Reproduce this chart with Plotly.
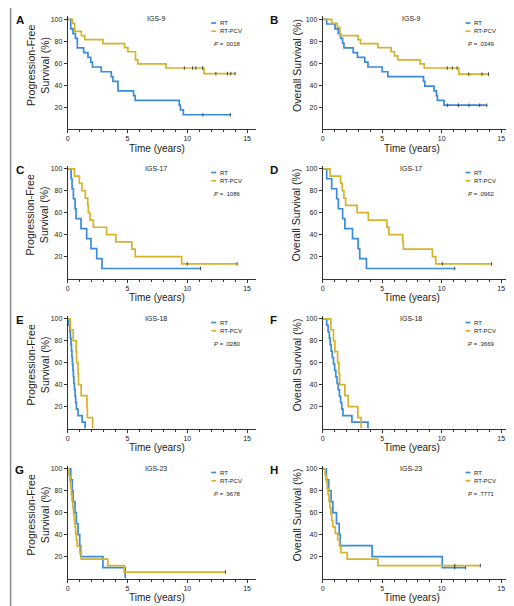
import plotly.graph_objects as go

# ---------------- data ----------------
PANEL_LETTERS = ["A", "B", "C", "D", "E", "F", "G", "H"]
PANEL_TITLES = ["IGS-9", "IGS-9", "IGS-17", "IGS-17", "IGS-18", "IGS-18", "IGS-23", "IGS-23"]
P_VALUES = [".0018", ".0349", ".1086", ".0962", ".0280", ".3669", ".9678", ".7771"]
Y_TITLES = ["Progression-Free<br>Survival (%)", "Overall Survival (%)"] * 4
X_TITLE = "Time (years)"
SERIES_NAMES = ["RT", "RT-PCV"]
X_TICKS = [0, 5, 10, 15]
Y_TICKS = [20, 40, 60, 80, 100]

# Panel A  (PFS, IGS-9)
A_RT_T = [0, 0.25, 0.44, 0.64, 0.8, 1.33, 1.69, 1.92, 2.06, 2.8, 3.64, 3.78, 4.2, 5.5, 5.64, 9.33, 9.42, 9.67, 13.6]
A_RT_S = [100, 91.3, 87.0, 82.6, 73.9, 69.6, 65.2, 60.9, 56.5, 52.2, 47.8, 43.5, 34.8, 30.4, 26.1, 21.7, 17.4, 13.0, 13.0]
A_RT_C = [11.3, 13.6]
A_PCV_T = [0, 0.39, 0.58, 1.14, 1.42, 2.94, 4.75, 5.03, 5.67, 5.86, 8.22, 11.4, 14.0]
A_PCV_S = [100, 96.3, 88.9, 85.2, 81.5, 77.8, 74.1, 70.4, 63.0, 59.3, 55.6, 50.5, 50.5]
A_PCV_C = [9.75, 10.44, 10.72, 11.28, 12.39, 13.36, 13.64, 14.0]

# Panel B  (OS, IGS-9)
B_RT_T = [0, 0.33, 1.03, 1.3, 1.5, 1.67, 1.78, 2.56, 2.92, 3.53, 3.8, 5.0, 5.47, 8.47, 8.58, 9.36, 9.56, 9.64, 10.2, 13.8]
B_RT_S = [100, 95.7, 91.3, 87.0, 82.6, 78.3, 73.9, 69.6, 65.2, 60.9, 56.5, 52.2, 47.8, 43.5, 39.1, 34.8, 30.4, 26.1, 21.7, 21.7]
B_RT_C = [10.5, 11.4, 12.3, 13.2, 13.8]
B_PCV_T = [0, 0.75, 1.22, 1.44, 2.97, 3.17, 4.64, 5.75, 6.03, 6.31, 8.19, 8.53, 11.44, 13.94]
B_PCV_S = [100, 96.3, 92.6, 85.2, 81.5, 77.8, 74.1, 70.4, 66.7, 63.0, 59.3, 55.6, 50.0, 50.0]
B_PCV_C = [10.47, 10.89, 11.3, 12.28, 13.39, 13.94]

# Panel C  (PFS, IGS-17)
C_RT_T = [0, 0.28, 0.36, 0.47, 0.61, 0.69, 1.11, 1.58, 1.94, 2.42, 2.86, 11.1]
C_RT_S = [100, 90.9, 81.8, 72.7, 63.6, 54.5, 45.5, 36.4, 27.3, 18.2, 9.1, 9.1]
C_RT_C = [11.1]
C_PCV_T = [0, 0.56, 0.97, 1.19, 1.47, 1.67, 1.72, 1.86, 2.14, 3.25, 4.03, 5.36, 5.64, 9.53, 14.17]
C_PCV_S = [100, 93.3, 86.7, 80.0, 73.3, 66.7, 60.0, 53.3, 46.7, 40.0, 33.3, 26.7, 20.0, 13.3, 13.3]
C_PCV_C = [10.0, 14.17]

# Panel D  (OS, IGS-17)
D_RT_T = [0, 0.33, 0.75, 1.17, 1.31, 1.67, 1.86, 2.5, 2.97, 3.11, 3.67, 11.1]
D_RT_S = [100, 90.9, 81.8, 72.7, 63.6, 54.5, 45.5, 36.4, 27.3, 18.2, 9.1, 9.1]
D_RT_C = [11.1]
D_PCV_T = [0, 0.61, 1.5, 1.64, 1.78, 1.92, 2.89, 3.83, 5.39, 5.56, 6.72, 6.78, 9.22, 9.5, 14.2]
D_PCV_S = [100, 93.3, 86.7, 80.0, 73.3, 66.7, 60.0, 53.3, 46.7, 40.0, 33.3, 26.7, 20.0, 13.3, 13.3]
D_PCV_C = [10.06, 14.2]

# Panel E  (PFS, IGS-18)
E_RT_T = [0, 0.08, 0.17, 0.22, 0.27, 0.31, 0.35, 0.39, 0.43, 0.47, 0.51, 0.56, 0.61, 0.66, 0.72, 0.86, 1.2, 1.45]
E_RT_S = [100, 94.1, 88.2, 82.4, 76.5, 70.6, 64.7, 58.8, 52.9, 47.1, 41.2, 35.3, 29.4, 23.5, 17.6, 11.8, 5.9, 0]
E_RT_C = []
E_PCV_T = [0, 0.22, 0.45, 0.7, 0.74, 0.86, 0.9, 1.12, 1.6, 1.64, 2.08]
E_PCV_S = [100, 90, 80, 70, 60, 50, 40, 30, 20, 10, 0]
E_PCV_C = []

# Panel F  (OS, IGS-18)
F_RT_T = [0, 0.33, 0.45, 0.55, 0.62, 0.7, 0.8, 0.9, 1.0, 1.1, 1.2, 1.3, 1.4, 1.5, 1.6, 1.7, 2.45, 3.8]
F_RT_S = [100, 94.1, 88.2, 82.4, 76.5, 70.6, 64.7, 58.8, 52.9, 47.1, 41.2, 35.3, 29.4, 23.5, 17.6, 11.8, 5.9, 0]
F_RT_C = []
F_PCV_T = [0, 0.68, 0.9, 1.02, 1.25, 1.36, 1.42, 1.86, 2.14, 2.95, 3.22]
F_PCV_S = [100, 90, 80, 70, 60, 50, 40, 30, 20, 10, 0]
F_PCV_C = []

# Panel G  (PFS, IGS-23)
G_RT_T = [0, 0.25, 0.38, 0.45, 0.6, 0.72, 0.86, 1.0, 1.08, 2.94, 4.8]
G_RT_S = [100, 90, 80, 70, 60, 50, 40, 30, 20, 10, 0]
G_RT_C = []
G_PCV_T = [0, 0.1, 0.18, 0.24, 0.3, 0.36, 0.42, 0.48, 0.54, 0.6, 0.66, 0.72, 0.78, 1.0, 1.12, 3.35, 4.72, 13.2]
G_PCV_S = [100, 94.1, 88.2, 82.4, 76.5, 70.6, 64.7, 58.8, 52.9, 47.1, 41.2, 35.3, 29.4, 23.5, 17.6, 11.8, 5.9, 5.9]
G_PCV_C = [13.2]

# Panel H  (OS, IGS-23)
H_RT_T = [0, 0.3, 0.5, 0.7, 0.85, 1.15, 1.38, 1.47, 4.15, 10.05, 12.0]
H_RT_S = [100, 90, 80, 70, 60, 50, 40, 30, 20, 10, 10]
H_RT_C = [11.1, 12.0]
H_PCV_T = [0, 0.2, 0.3, 0.38, 0.45, 0.52, 0.6, 0.68, 0.75, 0.85, 1.05, 1.25, 1.4, 1.53, 2.05, 4.64, 13.25]
H_PCV_S = [100, 94.1, 88.2, 82.4, 76.5, 70.6, 64.7, 58.8, 52.9, 47.1, 41.2, 35.3, 29.4, 23.5, 17.6, 11.8, 11.8]
H_PCV_C = [11.1, 13.25]

RT_T = [A_RT_T, B_RT_T, C_RT_T, D_RT_T, E_RT_T, F_RT_T, G_RT_T, H_RT_T]
RT_S = [A_RT_S, B_RT_S, C_RT_S, D_RT_S, E_RT_S, F_RT_S, G_RT_S, H_RT_S]
RT_C = [A_RT_C, B_RT_C, C_RT_C, D_RT_C, E_RT_C, F_RT_C, G_RT_C, H_RT_C]
PCV_T = [A_PCV_T, B_PCV_T, C_PCV_T, D_PCV_T, E_PCV_T, F_PCV_T, G_PCV_T, H_PCV_T]
PCV_S = [A_PCV_S, B_PCV_S, C_PCV_S, D_PCV_S, E_PCV_S, F_PCV_S, G_PCV_S, H_PCV_S]
PCV_C = [A_PCV_C, B_PCV_C, C_PCV_C, D_PCV_C, E_PCV_C, F_PCV_C, G_PCV_C, H_PCV_C]

# ---------------- style / layout ----------------
W, H = 514, 606
BLUE = "#3a8bd9"
GOLD = "#d6b32a"
AXC = "#333333"
FONT = "Liberation Sans Narrow, Arial Narrow, Liberation Sans, Arial, sans-serif"
FONT_REG = "Liberation Sans, Arial, sans-serif"
COL_X = [(58, 247), (314, 502)]
ROW_BOTTOM = [121, 270.5, 420.5, 570.5]
PLOT_H = 113
XMAX = 15.75
YMAX = 103


def step_value(ts, ss, t):
    v = ss[0]
    for tt, s in zip(ts, ss):
        if tt <= t:
            v = s
    return v


fig = go.Figure()
layout = dict(
    width=W, height=H, margin=dict(l=0, r=0, t=0, b=0),
    paper_bgcolor="white", plot_bgcolor="white", showlegend=False,
    font=dict(family=FONT_REG, color="#222", size=7),
)
annotations = []
shapes = []

for i in range(8):
    n = i + 1
    row, col = i // 2, i % 2
    x0, x1 = COL_X[col]
    yb = ROW_BOTTOM[row]
    xs = "x" if n == 1 else f"x{n}"
    ys = "y" if n == 1 else f"y{n}"
    xk = "xaxis" if n == 1 else f"xaxis{n}"
    yk = "yaxis" if n == 1 else f"yaxis{n}"
    layout[xk] = dict(
        domain=[x0 / W, x1 / W], range=[0, XMAX], anchor=ys,
        showline=True, linecolor=AXC, linewidth=1, showgrid=False, zeroline=False,
        ticks="outside", ticklen=3, tickwidth=1, tickcolor=AXC,
        tickmode="array", tickvals=X_TICKS, ticktext=[str(v) for v in X_TICKS],
        tickfont=dict(size=7, family=FONT_REG, color="#222"),
        minor=dict(dtick=1, tick0=0, ticks="outside", ticklen=2, tickcolor=AXC, showgrid=False),
        fixedrange=True,
    )
    layout[yk] = dict(
        domain=[1 - yb / H, 1 - (yb - PLOT_H) / H], range=[0, YMAX], anchor=xs,
        showline=True, linecolor=AXC, linewidth=1, showgrid=False, zeroline=False,
        ticks="outside", ticklen=3, tickwidth=1, tickcolor=AXC,
        tickmode="array", tickvals=Y_TICKS, ticktext=[str(v) for v in Y_TICKS],
        tickfont=dict(size=7, family=FONT_REG, color="#222"),
        fixedrange=True,
    )

    for ts, ss, cs, color, name in [
        (RT_T[i], RT_S[i], RT_C[i], BLUE, SERIES_NAMES[0]),
        (PCV_T[i], PCV_S[i], PCV_C[i], GOLD, SERIES_NAMES[1]),
    ]:
        fig.add_trace(go.Scatter(
            x=ts, y=ss, mode="lines", line=dict(color=color, width=1.7, shape="hv"),
            name=name, xaxis=xs, yaxis=ys, hoverinfo="skip",
        ))
        if cs:
            fig.add_trace(go.Scatter(
                x=cs, y=[step_value(ts, ss, c) for c in cs], mode="markers",
                marker=dict(symbol="line-ns", size=2.5, line=dict(width=0.9, color="#333")),
                xaxis=xs, yaxis=ys, hoverinfo="skip",
            ))

    dx = f"{xs} domain"
    dy = f"{ys} domain"
    # panel letter
    annotations.append(dict(
        text=f"<b>{PANEL_LETTERS[i]}</b>", xref="paper", yref="paper",
        x=(10 if col == 0 else 265) / W, y=1 - (12 + 150 * row) / H,
        xanchor="center", yanchor="middle", showarrow=False,
        font=dict(size=11.5, family=FONT_REG, color="#111"),
    ))
    # panel title
    annotations.append(dict(
        text=PANEL_TITLES[i], xref=dx, yref=dy, x=0.47, y=0.975,
        xanchor="center", yanchor="middle", showarrow=False,
        font=dict(size=7, family=FONT_REG, color="#222"),
    ))
    # legend
    for k, (color, yy) in enumerate([(BLUE, 0.938), (GOLD, 0.865)]):
        shapes.append(dict(
            type="line", xref=dx, yref=dy, x0=0.762, x1=0.788, y0=yy, y1=yy,
            line=dict(color=color, width=1.7),
        ))
        annotations.append(dict(
            text=SERIES_NAMES[k], xref=dx, yref=dy, x=0.797, y=yy,
            xanchor="left", yanchor="middle", showarrow=False,
            font=dict(size=6, family=FONT_REG, color="#222"),
        ))
    annotations.append(dict(
        text=f"<i>P</i> = {P_VALUES[i]}", xref=dx, yref=dy, x=0.765, y=0.752,
        xanchor="left", yanchor="middle", showarrow=False,
        font=dict(size=6, family=FONT_REG, color="#222"),
    ))
    # x title
    annotations.append(dict(
        text=X_TITLE, xref=xs, yref="paper", x=7.5, y=1 - (yb + 19) / H,
        xanchor="center", yanchor="middle", showarrow=False,
        font=dict(size=10, family=FONT, color="#222"),
    ))
    # y title
    annotations.append(dict(
        text=Y_TITLES[i], xref="paper", yref="paper",
        x=(28 if col == 0 else 288) / W, y=1 - (yb - 64) / H,
        xanchor="center", yanchor="middle", showarrow=False, textangle=-90,
        font=dict(size=10.5, family=FONT, color="#222"),
    ))

# outer frame lines (left and bottom)
shapes.append(dict(type="line", xref="paper", yref="paper", x0=0.6 / W, x1=0.6 / W, y0=0, y1=1,
                   line=dict(color="#8a8a8a", width=1.5)))
shapes.append(dict(type="line", xref="paper", yref="paper", x0=0, x1=1, y0=4 / H, y1=4 / H,
                   line=dict(color="#8a8a8a", width=1.5)))

layout["annotations"] = annotations
layout["shapes"] = shapes
fig.update_layout(**layout)
fig.write_html("out.html")
